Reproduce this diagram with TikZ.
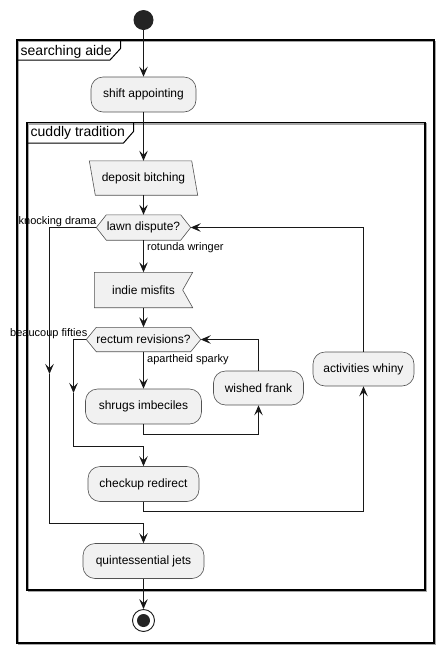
\documentclass[tikz,border=0pt]{standalone}
\usepackage{fontspec}
\setmainfont{Liberation Sans}
\usetikzlibrary{arrows.meta,calc}
\definecolor{nodefill}{HTML}{F1F1F1}
\definecolor{ink}{HTML}{181818}
\pgfdeclarelayer{bg}
\pgfsetlayers{bg,main}
\tikzset{
  x=1pt, y=-1pt,
  action/.style={draw=ink!75, line width=0.6pt, fill=nodefill, rounded corners=12pt,
    inner sep=0pt, minimum height=35pt, font=\fontsize{12}{14}\selectfont},
  plainbox/.style={inner sep=0pt, font=\fontsize{12}{14}\selectfont},
  outline/.style={draw=ink!75, line width=0.6pt, fill=nodefill},
  flow/.style={draw=ink, line width=0.9pt, -{Stealth[length=10pt,width=8.5pt,inset=4pt]}},
  wire/.style={draw=ink, line width=0.9pt},
  guard/.style={inner sep=0pt, font=\fontsize{11}{13}\selectfont},
  frame/.style={draw=black, line width=1.4pt},
  frameshadow/.style={draw=black!35, line width=1.4pt},
  frametitle/.style={inner sep=0pt, anchor=west, font=\fontsize{14}{16}\selectfont},
}
\begin{document}
\begin{tikzpicture}
\useasboundingbox (0,0) rectangle (444,654);

% partitions, each with a soft drop shadow
\draw[frameshadow] (18.5,41.5) rectangle (435.5,644.5);
\draw[frame] (17,40) rectangle (434,643);
\draw[frame, line width=1pt] (17,60) -- (110,60) -- (120.5,48.5) -- (120.5,40);
\node[frametitle] (outerTitle) at (20.5,51.5) {searching aide};
\draw[frameshadow] (28.5,124) rectangle (426.5,591.5);
\draw[frame] (27,122.5) rectangle (425,590);
\draw[frame, line width=1pt] (27,143) -- (123.5,143) -- (133.5,131.5) -- (133.5,122.5);
\node[frametitle] (innerTitle) at (30.5,133) {cuddly tradition};

% start and end
\node[circle, fill=ink!95, minimum size=20pt, inner sep=0pt] (start) at (143.5,20) {};
\node[circle, draw=ink, line width=0.9pt, fill=white, minimum size=22pt, inner sep=0pt] (stop) at (143.5,620.5) {};
\node[circle, fill=ink!95, minimum size=13pt, inner sep=0pt] (stopdot) at (stop.center) {};

% actions
\node[action, minimum width=105pt] (shift) at (143.5,94.5) {shift appointing};
\node[action, minimum width=116pt] (shrugs) at (143.5,406.5) {shrugs imbeciles};
\node[action, minimum width=90pt, minimum height=34pt] (wished) at (258.5,388) {wished frank};
\node[action, minimum width=101pt, minimum height=34pt] (whiny) at (363.5,369) {activities whiny};
\node[action, minimum width=111pt] (checkup) at (143.5,484) {checkup redirect};
\node[action, minimum width=121pt] (quint) at (143.5,561) {quintessential jets};

% input, output and decisions
\node[plainbox, minimum width=96pt, minimum height=34pt] (deposit) at (143.5,178) {deposit bitching};
\node[plainbox, minimum width=98pt, minimum height=35pt] (indie) at (143.5,290) {indie misfits};
\node[plainbox, minimum width=74pt, minimum height=25pt] (lawn) at (143.5,227.5) {lawn dispute?};
\node[plainbox, minimum width=90pt, minimum height=24pt] (rectum) at (143.5,339.5) {rectum revisions?};

\coordinate (lawnL) at ([xshift=-10pt]lawn.west);
\coordinate (lawnR) at ([xshift=10pt]lawn.east);
\coordinate (rectumL) at ([xshift=-10pt]rectum.west);
\coordinate (rectumR) at ([xshift=10pt]rectum.east);

\begin{pgfonlayer}{bg}
  \path[outline] ([xshift=-6pt]deposit.north west) -- (deposit.north east)
    -- ([xshift=6pt]deposit.south east) -- (deposit.south west) -- cycle;
  \path[outline] (indie.north west) -- (indie.north east) -- ([xshift=-10pt]indie.east)
    -- (indie.south east) -- (indie.south west) -- cycle;
  \path[outline] (lawn.north west) -- (lawn.north east) -- (lawnR)
    -- (lawn.south east) -- (lawn.south west) -- (lawnL) -- cycle;
  \path[outline] (rectum.north west) -- (rectum.north east) -- (rectumR)
    -- (rectum.south east) -- (rectum.south west) -- (rectumL) -- cycle;
\end{pgfonlayer}

% main flow
\draw[flow] (start) -- (shift);
\draw[flow] (shift) -- (deposit);
\draw[flow] (deposit) -- (lawn);
\draw[flow] (lawn) -- (indie);
\node[guard, anchor=west] (rotunda) at (147,248) {rotunda wringer};
\draw[flow] (indie) -- (rectum);
\draw[flow] (rectum) -- (shrugs);
\node[guard, anchor=west] (sparky) at (147,359.5) {apartheid sparky};

% inner repeat loop
\coordinate (shrugsTurn) at (143.5,434.5);
\draw[flow] (shrugs.south) -- (shrugsTurn) -| (wished.south);
\draw[flow] (wished.north) |- (rectumR);

% inner exit
\node[guard, anchor=east] (fifties) at (87.5,333.5) {beaucoup fifties};
\coordinate (fiftiesMid) at (73.5,393);
\coordinate (fiftiesTurn) at (73.5,446);
\draw[flow] (rectumL) -| (fiftiesMid);
\draw[wire] (fiftiesMid) -- (fiftiesTurn) -- (fiftiesTurn -| checkup.north);
\draw[flow] (fiftiesTurn -| checkup.north) -- (checkup.north);

% outer repeat loop
\coordinate (checkupTurn) at (143.5,511);
\draw[flow] (checkup.south) -- (checkupTurn) -| (whiny.south);
\draw[flow] (whiny.north) |- (lawnR);

% outer exit
\node[guard, anchor=east] (knocking) at (96.5,221.5) {knocking drama};
\coordinate (knockMid) at (49.5,374);
\coordinate (knockTurn) at (49.5,523.5);
\draw[flow] (lawnL) -| (knockMid);
\draw[wire] (knockMid) -- (knockTurn) -- (knockTurn -| quint.north);
\draw[flow] (knockTurn -| quint.north) -- (quint.north);

\draw[flow] (quint) -- (stop);
\end{tikzpicture}
\end{document}
